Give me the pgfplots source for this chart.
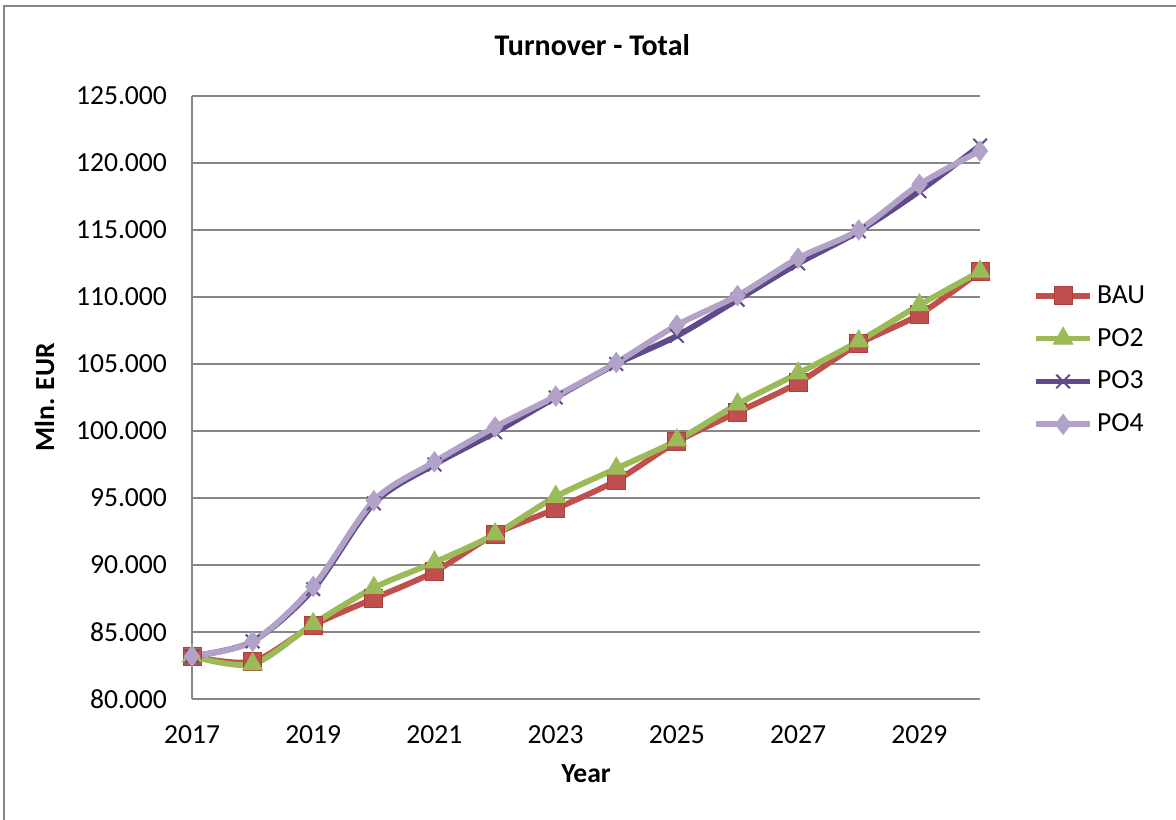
\documentclass[border=0pt]{standalone}
\usepackage{fontspec}
\setmainfont{Carlito}
\usepackage{pgfplots}
\pgfplotsset{compat=1.18}
\definecolor{bau}{HTML}{C0504D}
\definecolor{bauedge}{HTML}{A9403D}
\definecolor{potwo}{HTML}{9BBB59}
\definecolor{pothree}{HTML}{5F4B8B}
\definecolor{pofour}{HTML}{B3A2C7}
\definecolor{gridgray}{RGB}{134,134,134}
\begin{document}
\begin{tikzpicture}
\useasboundingbox (0pt,0pt) rectangle (588pt,409.5pt);
\draw[gridgray, line width=0.8pt] (2pt,-10pt) -- (2pt,406.5pt) -- (600pt,406.5pt);
\begin{axis}[
    at={(96pt,60pt)}, anchor=south west,
    scale only axis, width=394pt, height=301.5pt,
    xmin=2017, xmax=2030, ymin=80, ymax=125,
    xtick={2017,2019,...,2029},
    ytick={80,85,...,125},
    yticklabels={80.000,85.000,90.000,95.000,100.000,105.000,110.000,115.000,120.000,125.000},
    axis lines*=left,
    axis line style={gridgray, line width=0.9pt},
    ymajorgrids, grid style={gridgray, line width=0.9pt},
    major tick length=0pt,
    /pgf/number format/assume math mode=true,
    x tick label style={/pgf/number format/1000 sep={}, yshift=-10pt},
    y tick label style={xshift=-9pt},
    tick label style={font=\fontsize{13.8}{16}\selectfont},
    title={Turnover - Total},
    title style={font=\bfseries\fontsize{15}{18}\selectfont, at={(axis description cs:0.508,1.085)}, anchor=center, yshift=0pt},
    every axis title shift=0pt,
    xlabel={Year},
    xlabel style={font=\bfseries\fontsize{13.8}{16}\selectfont, at={(axis description cs:0.5,-0.123)}, anchor=center},
    ylabel={Mln. EUR},
    ylabel style={font=\bfseries\fontsize{13.8}{16}\selectfont, at={(axis description cs:-0.187,0.5)}, anchor=center},
    legend style={draw=none, at={(rel axis cs:1.067,0.562)}, anchor=west,
        font=\fontsize{13.8}{16}\selectfont, row sep=7pt, inner sep=0pt},
    legend cell align=left,
    legend image code/.code={
        \draw[mark repeat=2,mark phase=2,#1] plot coordinates {(0pt,0pt) (13.5pt,0pt) (27pt,0pt)};},
    every axis plot/.append style={line width=2.9pt, smooth, tension=0.5},
]
\addplot[color=bau, mark=square*, mark size=4.5pt, mark options={fill=bau, draw=bauedge, line width=0.5pt}] coordinates {
    (2017, 83.2) (2018, 82.8) (2019, 85.5) (2020, 87.5) (2021, 89.5)
    (2022, 92.3) (2023, 94.2) (2024, 96.3) (2025, 99.2) (2026, 101.4)
    (2027, 103.6) (2028, 106.5) (2029, 108.7) (2030, 111.9)
};
\addlegendentry{BAU}
\addplot[color=potwo, mark=triangle*, mark size=5.6pt, mark options={fill=potwo, line width=0.5pt}] coordinates {
    (2017, 83.2) (2018, 82.6) (2019, 85.6) (2020, 88.3) (2021, 90.2)
    (2022, 92.3) (2023, 95.1) (2024, 97.2) (2025, 99.3) (2026, 102.0)
    (2027, 104.3) (2028, 106.7) (2029, 109.4) (2030, 111.9)
};
\addlegendentry{PO2}
\addplot[color=pothree, mark=x, mark size=4.8pt, mark options={line width=1pt}] coordinates {
    (2017, 83.2) (2018, 84.3) (2019, 88.2) (2020, 94.6) (2021, 97.5)
    (2022, 99.9) (2023, 102.5) (2024, 105.0) (2025, 107.1) (2026, 109.8)
    (2027, 112.5) (2028, 114.9) (2029, 117.9) (2030, 121.3)
};
\addlegendentry{PO3}
\addplot[color=pofour, mark=diamond*, mark size=5pt, mark options={fill=pofour, line width=0.5pt}] coordinates {
    (2017, 83.2) (2018, 84.3) (2019, 88.4) (2020, 94.8) (2021, 97.7)
    (2022, 100.3) (2023, 102.6) (2024, 105.1) (2025, 107.9) (2026, 110.1)
    (2027, 112.9) (2028, 115.0) (2029, 118.4) (2030, 120.9)
};
\addlegendentry{PO4}
\end{axis}
\end{tikzpicture}
\end{document}
